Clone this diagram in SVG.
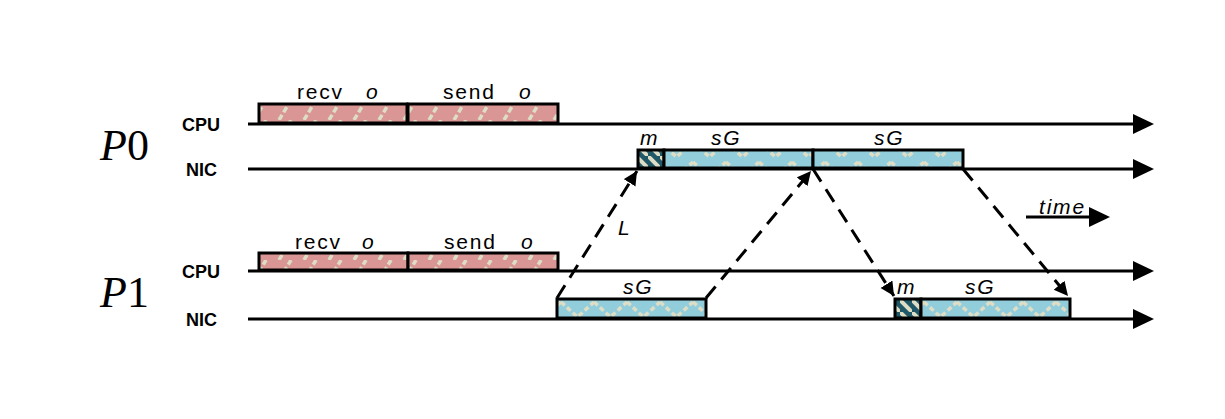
<svg xmlns="http://www.w3.org/2000/svg" width="1225" height="419" viewBox="0 0 1225 419">
<style>
.axis{stroke:#000;stroke-width:3;fill:none}
.box{stroke:#000;stroke-width:3}
.red{fill:url(#pRed)}
.blue{fill:url(#pBlue)}
.dark{fill:url(#pDark)}
.dash{stroke:#000;stroke-width:3;fill:none;stroke-dasharray:15 9}
.lbl{font-family:"Liberation Sans",Arial,sans-serif;font-size:21px;fill:#000;letter-spacing:1.8px}
.it{font-style:italic}
.side{font-family:"Liberation Sans",Arial,sans-serif;font-size:18px;font-weight:bold;fill:#000}
.proc{font-family:"Liberation Serif","Times New Roman",serif;font-size:44px;fill:#000}
</style>
<defs>
<pattern id="pRed" width="25" height="20" patternUnits="userSpaceOnUse">
<rect width="25" height="20" fill="#d99694"/>
<line x1="4" y1="20" x2="16" y2="0" stroke="#dedec6" stroke-width="3.5" stroke-dasharray="6 3"/>
</pattern>
<pattern id="pBlue" width="33" height="20" patternUnits="userSpaceOnUse">
<rect width="33" height="20" fill="#92cddc"/>
<polyline points="0,2 16.5,17 33,2" fill="none" stroke="#dedec6" stroke-width="3.5" stroke-dasharray="5 3"/>
</pattern>
<pattern id="pDark" width="12" height="12" patternUnits="userSpaceOnUse">
<rect width="12" height="12" fill="#215868"/>
<line x1="-2" y1="-2" x2="14" y2="14" stroke="#dedec6" stroke-width="4"/>
</pattern>
<marker id="bigArrow" markerUnits="userSpaceOnUse" markerWidth="22" markerHeight="22" refX="0" refY="10" orient="auto">
<path d="M0,0 L21,10 L0,20 Z" fill="#000"/>
</marker>
<marker id="smArrow" markerUnits="userSpaceOnUse" markerWidth="16" markerHeight="16" refX="14" refY="7" orient="auto">
<path d="M0,0 L14,7 L0,14 Z" fill="#000"/>
</marker>
</defs>

<g id="axes">
<line class="axis" x1="248" y1="124" x2="1133" y2="124" marker-end="url(#bigArrow)"/>
<line class="axis" x1="248" y1="169" x2="1133" y2="169" marker-end="url(#bigArrow)"/>
<line class="axis" x1="248" y1="271" x2="1133" y2="271" marker-end="url(#bigArrow)"/>
<line class="axis" x1="248" y1="319" x2="1133" y2="319" marker-end="url(#bigArrow)"/>
</g>

<g id="labels-left">
<text class="proc" x="100" y="160"><tspan class="it">P</tspan>0</text>
<text class="proc" x="100" y="307"><tspan class="it">P</tspan>1</text>
<text class="side" x="182" y="131">CPU</text>
<text class="side" x="186" y="176">NIC</text>
<text class="side" x="182" y="278">CPU</text>
<text class="side" x="186" y="326">NIC</text>
</g>

<g id="p0-cpu-recv">
<rect class="box red" x="259" y="104" width="148" height="19"/>
<text class="lbl" x="297" y="99">recv</text>
<text class="lbl it" x="366" y="99">o</text>
</g>
<g id="p0-cpu-send">
<rect class="box red" x="408" y="104" width="150" height="19"/>
<text class="lbl" x="443" y="99">send</text>
<text class="lbl it" x="519" y="99">o</text>
</g>

<g id="p0-nic-m">
<rect class="box dark" x="638" y="150" width="26" height="18"/>
<text class="lbl it" x="640" y="145">m</text>
</g>
<g id="p0-nic-sg1">
<rect class="box blue" x="664" y="150" width="149" height="18"/>
<text class="lbl it" x="711" y="145">sG</text>
</g>
<g id="p0-nic-sg2">
<rect class="box blue" x="813" y="150" width="150" height="18"/>
<text class="lbl it" x="874" y="145">sG</text>
</g>

<g id="p1-cpu-recv">
<rect class="box red" x="259" y="253" width="149" height="17"/>
<text class="lbl" x="295" y="249">recv</text>
<text class="lbl it" x="362" y="249">o</text>
</g>
<g id="p1-cpu-send">
<rect class="box red" x="408" y="253" width="150" height="17"/>
<text class="lbl" x="444" y="249">send</text>
<text class="lbl it" x="521" y="249">o</text>
</g>

<g id="p1-nic-sg">
<rect class="box blue" x="557" y="299" width="149" height="19"/>
<text class="lbl it" x="623" y="294">sG</text>
</g>
<g id="p1-nic-m">
<rect class="box dark" x="895" y="299" width="26" height="19"/>
<text class="lbl it" x="897" y="294">m</text>
</g>
<g id="p1-nic-sg2">
<rect class="box blue" x="921" y="299" width="149" height="19"/>
<text class="lbl it" x="965" y="294">sG</text>
</g>

<g id="connectors">
<line class="dash" x1="557" y1="298" x2="637" y2="171" marker-end="url(#smArrow)"/>
<line class="dash" x1="706" y1="298" x2="811" y2="171" marker-end="url(#smArrow)"/>
<line class="dash" x1="813" y1="169" x2="894" y2="296" marker-end="url(#smArrow)"/>
<line class="dash" x1="963" y1="169" x2="1068" y2="296" marker-end="url(#smArrow)"/>
<text class="lbl it" x="618" y="235">L</text>
</g>

<g id="time-legend">
<line class="axis" x1="1026" y1="217" x2="1092" y2="217"/>
<path d="M1089,207 L1110,217 L1089,227 Z" fill="#000"/>
<text class="lbl it" x="1039" y="214">time</text>
</g>
</svg>
